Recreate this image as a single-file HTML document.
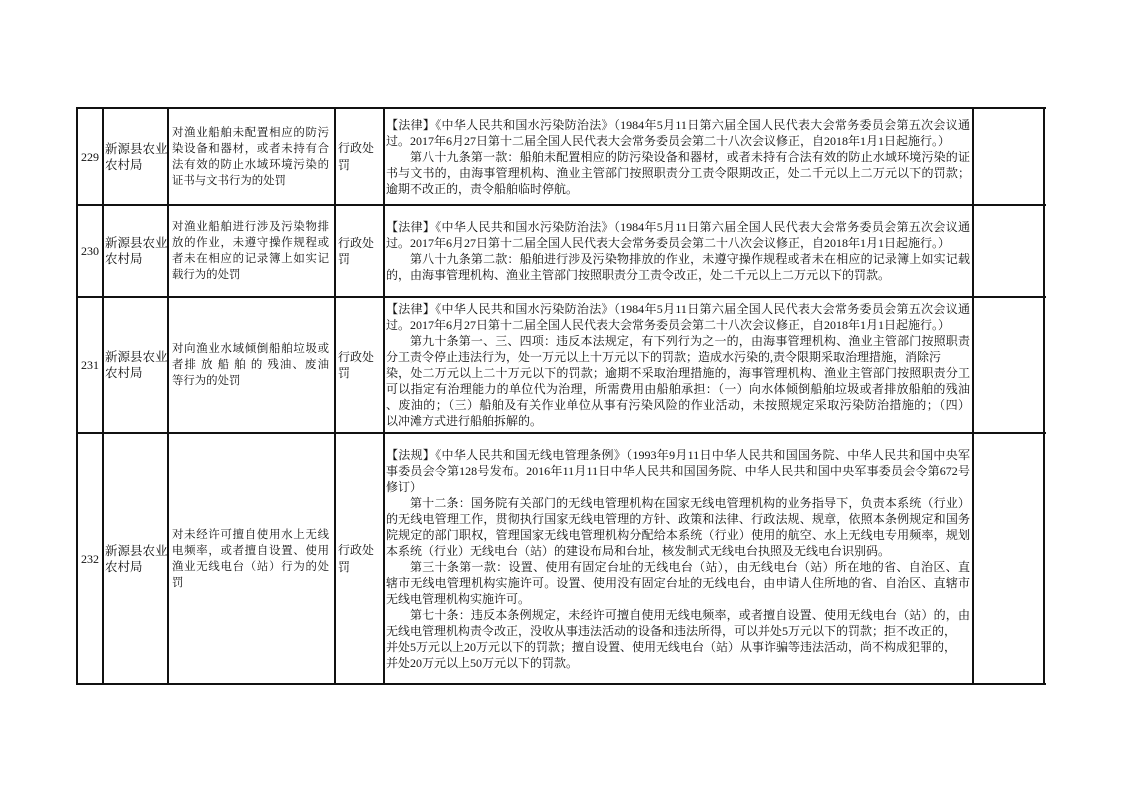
<!DOCTYPE html>
<html><head><meta charset="utf-8">
<style>
html,body{margin:0;padding:0;background:#fff;}
body{width:1122px;height:793px;position:relative;overflow:hidden;font-family:"Liberation Serif","Noto Serif CJK SC",serif;color:#111;}
.h{position:absolute;height:2px;background:#111;left:76px;width:970px;}
.v{position:absolute;width:2px;background:#111;top:107px;height:578px;}
.c{position:absolute;display:flex;flex-direction:column;justify-content:center;box-sizing:border-box;}
.c div{white-space:nowrap;}
.j{text-align:justify;text-align-last:justify;}
.m{font-size:12px;line-height:16px;}
.d{font-size:11.4px;line-height:16px;}
.n{font-size:12px;line-height:14px;text-align:center;}
.o{font-size:12.5px;line-height:16px;}
.t{font-size:12px;line-height:16.5px;}
.i{text-indent:2em;}
</style></head><body>
<div class="h" style="top:107px"></div>
<div class="h" style="top:204px"></div>
<div class="h" style="top:296px"></div>
<div class="h" style="top:432px"></div>
<div class="h" style="top:683px"></div>
<div class="v" style="left:76px"></div>
<div class="v" style="left:102px"></div>
<div class="v" style="left:167px"></div>
<div class="v" style="left:334px"></div>
<div class="v" style="left:383px"></div>
<div class="v" style="left:972px"></div>
<div class="v" style="left:1043px"></div>

<!-- row 229 -->
<div class="c n" style="left:78px;top:109px;width:24px;height:95px;"><div>229</div></div>
<div class="c o" style="left:104px;top:109px;width:63px;height:95px;padding-left:1px"><div>新源县农业</div><div>农村局</div></div>
<div class="c d" style="left:172px;top:109px;width:157px;height:95px;"><div class="j">对渔业船舶未配置相应的防污</div><div class="j">染设备和器材，或者未持有合</div><div class="j">法有效的防止水域环境污染的</div><div>证书与文书行为的处罚</div></div>
<div class="c t" style="left:338px;top:109px;width:45px;height:95px;"><div>行政处</div><div>罚</div></div>
<div class="c m" style="left:386px;top:109px;width:584px;height:95px;"><div class="j">【法律】《中华人民共和国水污染防治法》（1984年5月11日第六届全国人民代表大会常务委员会第五次会议通</div><div>过。2017年6月27日第十二届全国人民代表大会常务委员会第二十八次会议修正，自2018年1月1日起施行。）</div><div class="j i">第八十九条第一款：船舶未配置相应的防污染设备和器材，或者未持有合法有效的防止水域环境污染的证</div><div class="j">书与文书的，由海事管理机构、渔业主管部门按照职责分工责令限期改正，处二千元以上二万元以下的罚款；</div><div>逾期不改正的，责令船舶临时停航。</div></div>

<!-- row 230 -->
<div class="c n" style="left:78px;top:206px;width:24px;height:90px;"><div>230</div></div>
<div class="c o" style="left:104px;top:206px;width:63px;height:90px;padding-left:1px"><div>新源县农业</div><div>农村局</div></div>
<div class="c d" style="left:172px;top:206px;width:157px;height:90px;"><div class="j">对渔业船舶进行涉及污染物排</div><div class="j">放的作业，未遵守操作规程或</div><div class="j">者未在相应的记录簿上如实记</div><div>载行为的处罚</div></div>
<div class="c t" style="left:338px;top:206px;width:45px;height:90px;"><div>行政处</div><div>罚</div></div>
<div class="c m" style="left:386px;top:206px;width:584px;height:90px;"><div class="j">【法律】《中华人民共和国水污染防治法》（1984年5月11日第六届全国人民代表大会常务委员会第五次会议通</div><div>过。2017年6月27日第十二届全国人民代表大会常务委员会第二十八次会议修正，自2018年1月1日起施行。）</div><div class="j i">第八十九条第二款：船舶进行涉及污染物排放的作业，未遵守操作规程或者未在相应的记录簿上如实记载</div><div>的，由海事管理机构、渔业主管部门按照职责分工责令改正，处二千元以上二万元以下的罚款。</div></div>

<!-- row 231 -->
<div class="c n" style="left:78px;top:298px;width:24px;height:134px;"><div>231</div></div>
<div class="c o" style="left:104px;top:298px;width:63px;height:134px;padding-left:1px"><div>新源县农业</div><div>农村局</div></div>
<div class="c d" style="left:172px;top:298px;width:157px;height:134px;"><div class="j">对向渔业水域倾倒船舶垃圾或</div><div class="j">者排 放 船 舶 的 残油、废油</div><div>等行为的处罚</div></div>
<div class="c t" style="left:338px;top:298px;width:45px;height:134px;"><div>行政处</div><div>罚</div></div>
<div class="c m" style="left:386px;top:298px;width:584px;height:134px;"><div class="j">【法律】《中华人民共和国水污染防治法》（1984年5月11日第六届全国人民代表大会常务委员会第五次会议通</div><div>过。2017年6月27日第十二届全国人民代表大会常务委员会第二十八次会议修正，自2018年1月1日起施行。）</div><div class="j i">第九十条第一、三、四项：违反本法规定，有下列行为之一的，由海事管理机构、渔业主管部门按照职责</div><div>分工责令停止违法行为，处一万元以上十万元以下的罚款；造成水污染的,责令限期采取治理措施，消除污</div><div class="j">染，处二万元以上二十万元以下的罚款；逾期不采取治理措施的，海事管理机构、渔业主管部门按照职责分工</div><div class="j">可以指定有治理能力的单位代为治理，所需费用由船舶承担：（一）向水体倾倒船舶垃圾或者排放船舶的残油</div><div class="j">、废油的；（三）船舶及有关作业单位从事有污染风险的作业活动，未按照规定采取污染防治措施的；（四）</div><div>以冲滩方式进行船舶拆解的。</div></div>

<!-- row 232 -->
<div class="c n" style="left:78px;top:434px;width:24px;height:249px;"><div>232</div></div>
<div class="c o" style="left:104px;top:434px;width:63px;height:249px;padding-left:1px"><div>新源县农业</div><div>农村局</div></div>
<div class="c d" style="left:172px;top:434px;width:157px;height:249px;"><div class="j">对未经许可擅自使用水上无线</div><div class="j">电频率，或者擅自设置、使用</div><div class="j">渔业无线电台（站）行为的处</div><div>罚</div></div>
<div class="c t" style="left:338px;top:434px;width:45px;height:249px;"><div>行政处</div><div>罚</div></div>
<div class="c m" style="left:386px;top:434px;width:584px;height:249px;"><div class="j">【法规】《中华人民共和国无线电管理条例》（1993年9月11日中华人民共和国国务院、中华人民共和国中央军</div><div class="j">事委员会令第128号发布。2016年11月11日中华人民共和国国务院、中华人民共和国中央军事委员会令第672号</div><div>修订）</div><div class="j i">第十二条：国务院有关部门的无线电管理机构在国家无线电管理机构的业务指导下，负责本系统（行业）</div><div class="j">的无线电管理工作，贯彻执行国家无线电管理的方针、政策和法律、行政法规、规章，依照本条例规定和国务</div><div class="j">院规定的部门职权，管理国家无线电管理机构分配给本系统（行业）使用的航空、水上无线电专用频率，规划</div><div>本系统（行业）无线电台（站）的建设布局和台址，核发制式无线电台执照及无线电台识别码。</div><div class="j i">第三十条第一款：设置、使用有固定台址的无线电台（站），由无线电台（站）所在地的省、自治区、直</div><div class="j">辖市无线电管理机构实施许可。设置、使用没有固定台址的无线电台，由申请人住所地的省、自治区、直辖市</div><div>无线电管理机构实施许可。</div><div class="j i">第七十条：违反本条例规定，未经许可擅自使用无线电频率，或者擅自设置、使用无线电台（站）的，由</div><div>无线电管理机构责令改正，没收从事违法活动的设备和违法所得，可以并处5万元以下的罚款；拒不改正的，</div><div>并处5万元以上20万元以下的罚款；擅自设置、使用无线电台（站）从事诈骗等违法活动，尚不构成犯罪的，</div><div>并处20万元以上50万元以下的罚款。</div></div>
</body></html>
